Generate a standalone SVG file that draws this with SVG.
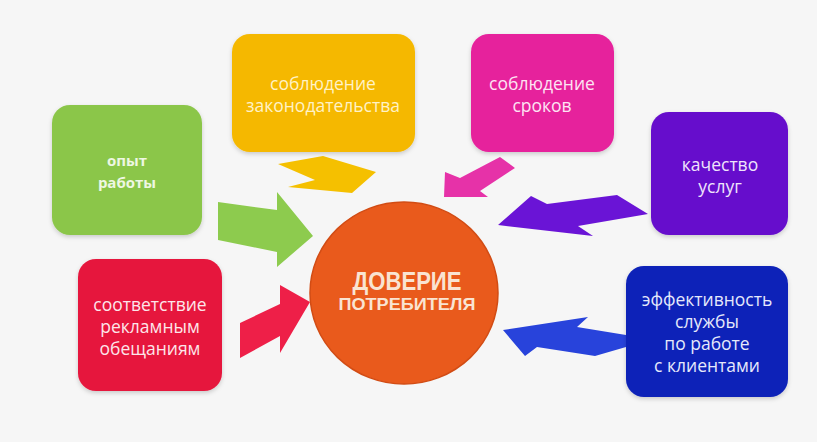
<svg xmlns="http://www.w3.org/2000/svg" width="817" height="442" viewBox="0 0 817 442">
<defs>
<filter id="sh" x="-10%" y="-10%" width="120%" height="125%">
<feDropShadow dx="0" dy="2" stdDeviation="2" flood-color="#000" flood-opacity="0.18"/>
</filter>
</defs>
<style>
.t{font-family:"Open Sans","DejaVu Sans",sans-serif;font-size:17.5px;text-anchor:middle}
.b{font-weight:bold;font-size:15px}
.box{filter:url(#sh)}
.c{font-family:"Liberation Sans","Arial",sans-serif;font-weight:bold;text-anchor:middle;fill:#f9e4d2}
</style>
<rect width="817" height="442" fill="#f6f6f6"/>
<g id="connectors">
<path d="M278,164 L323,156 L376,172 L352,193 L288,187 L315,180 Z" fill="#f5c000"/>
<path d="M218,202 L277,210 L277,192 L313,236 L277,267 L277,252 L218,240 Z" fill="#8dcb4e"/>
<path d="M240,323 L280,304 L280,285 L310,302 L280,353 L280,336 L240,358 Z" fill="#ee1f48"/>
<path d="M500,157 L515,168 L480,191 L488,197 L444,197 L445,172 L460,178 Z" fill="#e632a8"/>
<path d="M498,225 L531,196 L547,204 L617,195 L648,214 L578,226 L593,236 Z" fill="#6a14d6"/>
<path d="M503,330 L588,317 L577,327 L626,335 L626,347 L595,356 L537,347 L525,356 Z" fill="#2843db"/>
</g>
<g id="node-yellow">
<rect class="box" x="232" y="34" width="183" height="118" rx="18" fill="#f5b800"/>
<text class="t" x="323" y="90" fill="#fff2c6">соблюдение</text>
<text class="t" x="323" y="112" fill="#fff2c6">законодательства</text>
</g>
<g id="node-green">
<rect class="box" x="52" y="105" width="150" height="130" rx="18" fill="#8bc64a"/>
<text class="t b" x="127" y="166" fill="#eef7e2">опыт</text>
<text class="t b" x="127" y="188" fill="#eef7e2">работы</text>
</g>
<g id="node-red">
<rect class="box" x="78" y="259" width="144" height="132" rx="18" fill="#e6173d"/>
<text class="t" x="150" y="311" fill="#fde6ea">соответствие</text>
<text class="t" x="150" y="333" fill="#fde6ea">рекламным</text>
<text class="t" x="150" y="355" fill="#fde6ea">обещаниям</text>
</g>
<g id="node-magenta">
<rect class="box" x="471" y="34" width="143" height="118" rx="18" fill="#e6209c"/>
<text class="t" x="542" y="90" fill="#fde4f3">соблюдение</text>
<text class="t" x="542" y="112" fill="#fde4f3">сроков</text>
</g>
<g id="node-purple">
<rect class="box" x="651" y="112" width="137" height="123" rx="18" fill="#6610cc"/>
<text class="t" x="720" y="171" fill="#efe4fb">качество</text>
<text class="t" x="720" y="193" fill="#efe4fb">услуг</text>
</g>
<g id="node-blue">
<rect class="box" x="626" y="266" width="162" height="131" rx="18" fill="#0b20b8"/>
<text class="t" x="707" y="306" fill="#e6e9fb">эффективность</text>
<text class="t" x="707" y="328" fill="#e6e9fb">службы</text>
<text class="t" x="707" y="350" fill="#e6e9fb">по работе</text>
<text class="t" x="707" y="372" fill="#e6e9fb">с клиентами</text>
</g>
<g id="node-center">
<ellipse cx="404" cy="293" rx="94" ry="91" fill="#e95a1c" stroke="#d24c14" stroke-width="1.5"/>
<text class="c" x="407" y="290" font-size="26" textLength="109" lengthAdjust="spacingAndGlyphs">ДОВЕРИЕ</text>
<text class="c" x="407" y="310" font-size="17" textLength="137" lengthAdjust="spacingAndGlyphs">ПОТРЕБИТЕЛЯ</text>
</g>
</svg>
